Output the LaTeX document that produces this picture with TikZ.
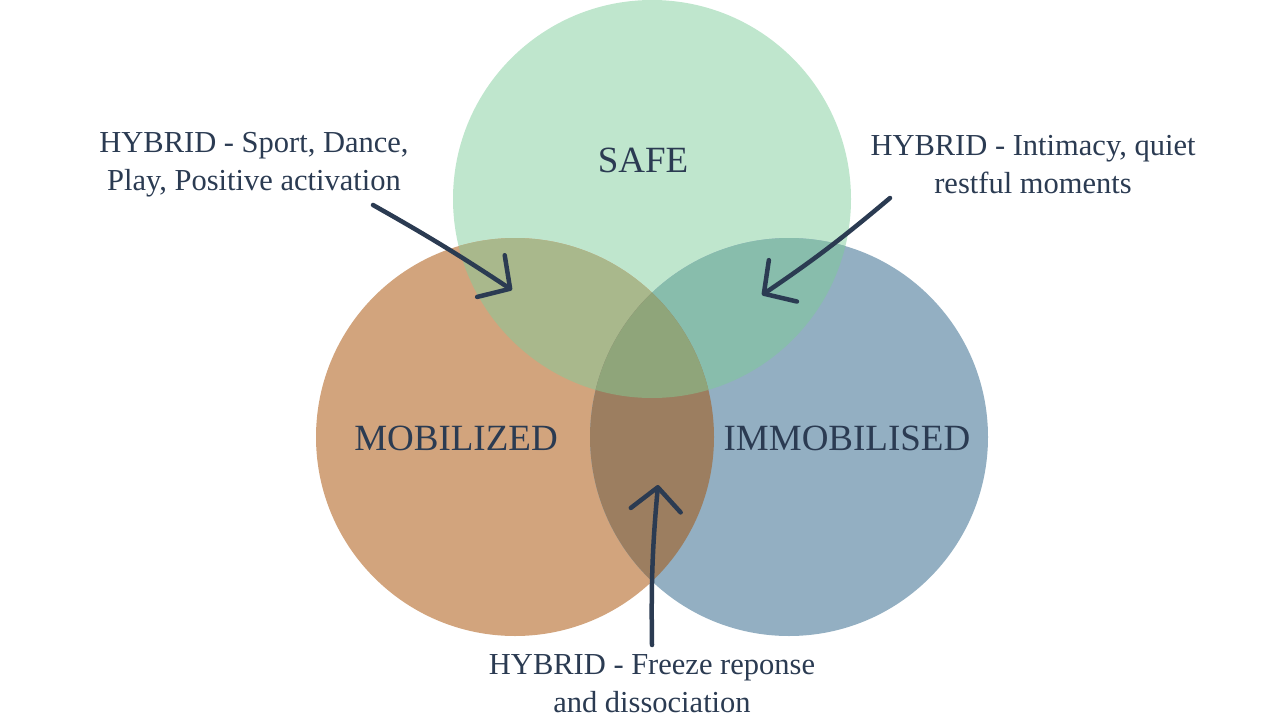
\documentclass[tikz,border=0pt]{standalone}
\usepackage{fontspec}
\setmainfont{Liberation Serif}
\usetikzlibrary{arrows.meta}

\tikzset{
    hybrid/.style={align=center, text=colT, inner sep=0pt,
        font=\fontsize{30.5}{38}\selectfont},
    state/.style={text=colT, inner sep=0pt, font=\fontsize{37}{40}\selectfont},
    brush/.style={draw=colT, line width=4.5pt, line cap=round,
        -{Straight Barb[length=23pt,width=50pt,round]}}
}

\begin{document}
\begin{tikzpicture}[x=1pt, y=-1pt]
    % R = radius of the three circles
    \def\R{199}

    \definecolor{colG}{HTML}{BFE6CD}
    \definecolor{colO}{HTML}{D2A47D}
    \definecolor{colB}{HTML}{93AFC2}
    \definecolor{colGO}{HTML}{A9B88C}
    \definecolor{colGB}{HTML}{88BDAC}
    \definecolor{colOB}{HTML}{9C7E60}
    \definecolor{colGOB}{HTML}{8FA57A}
    \definecolor{colT}{HTML}{2B3B52}

    \useasboundingbox (0,0) rectangle (1280,720);

    % Circle centres
    \coordinate (safe) at (652,199);
    \coordinate (mob)  at (515,437);
    \coordinate (imm)  at (789,437);

    % Plain circles
    \fill[colG] (safe) circle (\R);
    \fill[colO] (mob)  circle (\R);
    \fill[colB] (imm)  circle (\R);

    % Pairwise overlaps
    \begin{scope}
        \clip (safe) circle (\R);
        \fill[colGO] (mob) circle (\R);
        \fill[colGB] (imm) circle (\R);
    \end{scope}
    \begin{scope}
        \clip (mob) circle (\R);
        \fill[colOB] (imm) circle (\R);
    \end{scope}

    % Centre, all three
    \begin{scope}
        \clip (safe) circle (\R);
        \clip (mob) circle (\R);
        \fill[colGOB] (imm) circle (\R);
    \end{scope}

    % Circle labels
    \node[state] (lSafe) at (643,160) {SAFE};
    \node[state] (lMob)  at (456,438) {MOBILIZED};
    \node[state] (lImm)  at (847,438) {IMMOBILISED};

    % Hybrid labels
    \node[hybrid] (hPlay)   at (254,165) {HYBRID - Sport, Dance,\\Play, Positive activation};
    \node[hybrid] (hRest)   at (1033,165) {HYBRID - Intimacy, quiet\\restful moments};
    \node[hybrid] (hFreeze) at (652,684) {HYBRID - Freeze reponse\\and dissociation};

    % Arrow ends
    \coordinate (aPlay)   at (373,205);
    \coordinate (bPlay)   at (512,290);
    \coordinate (aRest)   at (890,198);
    \coordinate (bRest)   at (762,295);
    \coordinate (aFreeze) at (652,645);
    \coordinate (bFreeze) at (658,485);

    \draw[brush] (aPlay) to[bend left=2] (bPlay);
    \draw[brush] (aRest) to[bend left=3] (bRest);
    \draw[brush] (aFreeze) to[bend left=3] (bFreeze);
\end{tikzpicture}
\end{document}
